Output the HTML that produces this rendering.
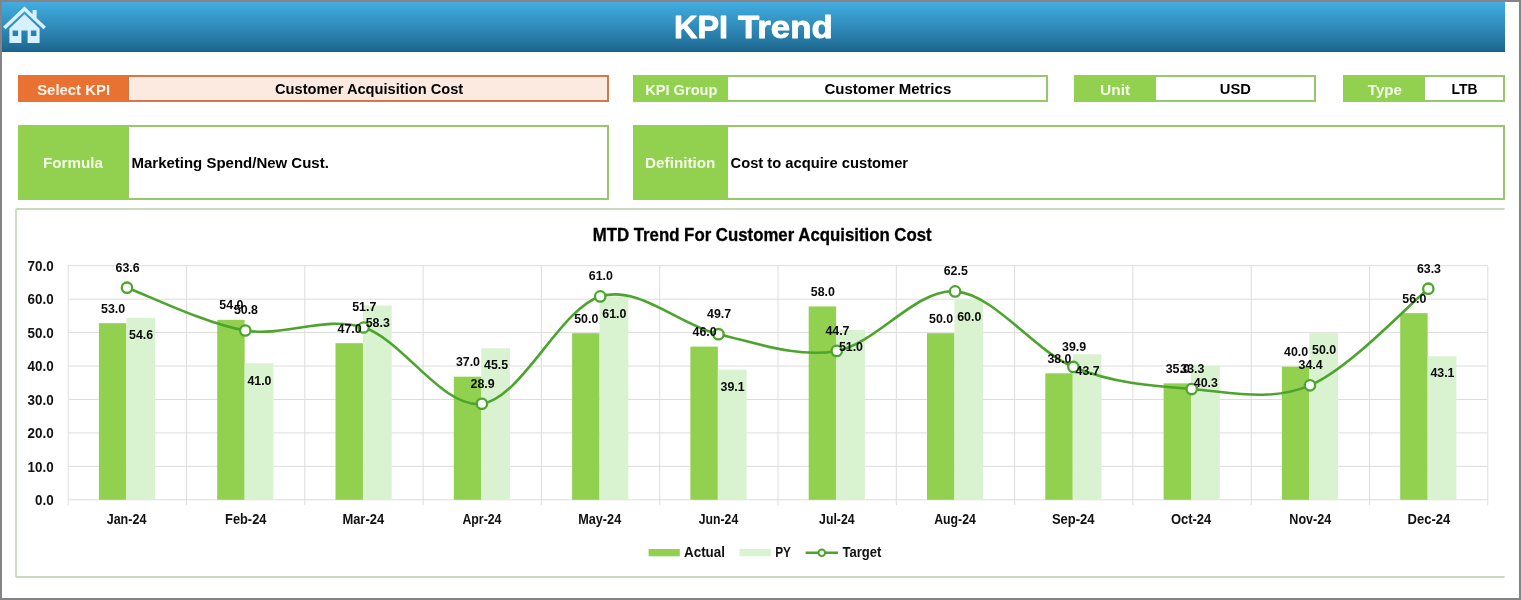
<!DOCTYPE html>
<html lang="en">
<head>
<meta charset="utf-8">
<title>KPI Trend</title>
<style>
*{box-sizing:border-box;margin:0;padding:0}
html,body{width:1521px;height:600px;overflow:hidden;background:#fff}
body{position:relative;font-family:"Liberation Sans",Arial,sans-serif;font-weight:bold;color:#000}
.frame{position:absolute;left:0;top:0;width:1521px;height:600px;border:2px solid #848487;pointer-events:none;z-index:5}
.hdr{position:absolute;left:2px;top:2px;width:1503px;height:50px;background:linear-gradient(to bottom,#46aae1 0%,#3ba3d4 16%,#2f89b8 52%,#24769f 80%,#1b668f 97%,#185e85 100%)}
.hdr h1{position:absolute;left:0;top:0;width:1503px;height:50px;line-height:50px;text-align:center;color:#fff;font-size:32px;font-weight:bold}
.hdr h1 svg{position:absolute;left:0;top:0}
.home{position:absolute;left:-2px;top:-2px}
.box{position:absolute;border:2px solid #97c76b;display:flex}
.box .lab{background:#92d050;color:#f3fbe8;display:flex;align-items:center;justify-content:center;font-size:15.5px;flex:none;margin:-2px 0 -2px -2px;border-right:1px solid #98c766}
.box .val{flex:1;background:#fff;display:flex;align-items:center;justify-content:center;font-size:15.5px;white-space:nowrap}
.box span{display:inline-block;white-space:nowrap}
.box.o{border-color:#d2784b}
.box.o .lab{background:#e97132;color:#fef4ea;border-right-color:#c9754a}
.box.o .val{background:#fce9e0}
.box .val.l{justify-content:flex-start;padding-left:2px}
svg.c{position:absolute;left:0;top:0}
</style>
</head>
<body>
<div class="hdr"><svg class="home" width="50" height="50" viewBox="0 0 50 50">
<g fill="#d6f1ff">
<path d="M24.5 6.6 L32.6 14.2 L32.6 10 L36.6 10 L36.6 18 L46 26.8 L43.5 29.3 L24.5 11.3 L5.5 29.3 L3 26.8 Z"/>
<path fill-rule="evenodd" d="M24.5 14.3 L39.6 28.5 L39.6 43 L27.6 43 L27.6 30.4 L21.4 30.4 L21.4 43 L9.4 43 L9.4 28.5 Z M12.6 30.4 L12.6 36 L18.1 36 L18.1 30.4 Z M30.9 30.4 L30.9 36 L36.4 36 L36.4 30.4 Z"/>
</g></svg><h1><svg width="1503" height="50" viewBox="2 2 1503 50"><text y="37.6" font-family="'Liberation Sans', Arial, sans-serif" font-weight="bold" font-size="30.9" fill="#fff" stroke="#fff" stroke-width="0.8" stroke-linejoin="round" stroke-linecap="round"><tspan x="674.1" textLength="54" lengthAdjust="spacingAndGlyphs">KPI</tspan> <tspan x="737.9" textLength="94.8" lengthAdjust="spacingAndGlyphs">Trend</tspan></text></svg></h1></div>

<div class="box o" style="left:18px;top:75px;width:591px;height:26.8px"><div class="lab" style="width:110.6px"><span style="transform:translate(0.7px,1.5px) scaleX(0.961);transform-origin:center center">Select KPI</span></div><div class="val"><span style="transform:translate(1.5px,0.6px) scaleX(0.9445);transform-origin:center center">Customer Acquisition Cost</span></div></div>
<div class="box" style="left:633.2px;top:75px;width:414.4px;height:26.8px"><div class="lab" style="width:94.6px"><span style="transform:translate(1px,1.5px) scaleX(0.942);transform-origin:center center">KPI Group</span></div><div class="val"><span style="transform:translate(1.4px,0.6px) scaleX(0.9679);transform-origin:center center">Customer Metrics</span></div></div>
<div class="box" style="left:1074.2px;top:75px;width:241.8px;height:26.8px"><div class="lab" style="width:81.5px"><span style="transform:translate(0.7px,1.5px) scaleX(1.0);transform-origin:center center">Unit</span></div><div class="val"><span style="transform:translate(1px,0.6px) scaleX(0.9497);transform-origin:center center">USD</span></div></div>
<div class="box" style="left:1343px;top:75px;width:162px;height:26.8px"><div class="lab" style="width:82px"><span style="transform:translate(1.3px,1.5px) scaleX(0.9714);transform-origin:center center">Type</span></div><div class="val"><span style="transform:translate(0px,0.6px) scaleX(0.8966);transform-origin:center center">LTB</span></div></div>
<div class="box" style="left:18px;top:124.8px;width:591px;height:75px"><div class="lab" style="width:110.6px"><span style="transform:translate(0.4px,0.8px) scaleX(0.9796);transform-origin:center center">Formula</span></div><div class="val l"><span style="transform:translate(0.5px,0.8px) scaleX(0.9668);transform-origin:left center">Marketing Spend/New Cust.</span></div></div>
<div class="box" style="left:633.2px;top:124.8px;width:871.8px;height:75px"><div class="lab" style="width:94.6px"><span style="transform:translate(0.5px,0.8px) scaleX(0.9844);transform-origin:center center">Definition</span></div><div class="val l"><span style="transform:translate(0.5px,0.8px) scaleX(0.9502);transform-origin:left center">Cost to acquire customer</span></div></div>

<svg class="c" width="1521" height="600" viewBox="0 0 1521 600">
<path d="M1504.6,209 H17 Q16,209 16,210 V576 Q16,577 17,577 H1504.6" fill="none" stroke="#cad9bc" stroke-width="1.8"/>
<line x1="68.2" y1="499.8" x2="1487.8" y2="499.8" stroke="#dddddd" stroke-width="1"/>
<line x1="68.2" y1="466.36" x2="1487.8" y2="466.36" stroke="#dddddd" stroke-width="1"/>
<line x1="68.2" y1="432.92" x2="1487.8" y2="432.92" stroke="#dddddd" stroke-width="1"/>
<line x1="68.2" y1="399.48" x2="1487.8" y2="399.48" stroke="#dddddd" stroke-width="1"/>
<line x1="68.2" y1="366.04" x2="1487.8" y2="366.04" stroke="#dddddd" stroke-width="1"/>
<line x1="68.2" y1="332.6" x2="1487.8" y2="332.6" stroke="#dddddd" stroke-width="1"/>
<line x1="68.2" y1="299.16" x2="1487.8" y2="299.16" stroke="#dddddd" stroke-width="1"/>
<line x1="68.2" y1="265.72" x2="1487.8" y2="265.72" stroke="#dddddd" stroke-width="1"/>
<line x1="68.2" y1="265.72" x2="68.2" y2="505.1" stroke="#dddddd" stroke-width="1"/>
<line x1="186.5" y1="265.72" x2="186.5" y2="505.1" stroke="#dddddd" stroke-width="1"/>
<line x1="304.8" y1="265.72" x2="304.8" y2="505.1" stroke="#dddddd" stroke-width="1"/>
<line x1="423.1" y1="265.72" x2="423.1" y2="505.1" stroke="#dddddd" stroke-width="1"/>
<line x1="541.4" y1="265.72" x2="541.4" y2="505.1" stroke="#dddddd" stroke-width="1"/>
<line x1="659.7" y1="265.72" x2="659.7" y2="505.1" stroke="#dddddd" stroke-width="1"/>
<line x1="778" y1="265.72" x2="778" y2="505.1" stroke="#dddddd" stroke-width="1"/>
<line x1="896.3" y1="265.72" x2="896.3" y2="505.1" stroke="#dddddd" stroke-width="1"/>
<line x1="1014.6" y1="265.72" x2="1014.6" y2="505.1" stroke="#dddddd" stroke-width="1"/>
<line x1="1132.9" y1="265.72" x2="1132.9" y2="505.1" stroke="#dddddd" stroke-width="1"/>
<line x1="1251.2" y1="265.72" x2="1251.2" y2="505.1" stroke="#dddddd" stroke-width="1"/>
<line x1="1369.5" y1="265.72" x2="1369.5" y2="505.1" stroke="#dddddd" stroke-width="1"/>
<line x1="1487.8" y1="265.72" x2="1487.8" y2="505.1" stroke="#dddddd" stroke-width="1"/>
<rect x="98.9" y="323.17" width="27.45" height="176.63" fill="#92d050"/>
<rect x="126.35" y="317.82" width="28.75" height="181.98" fill="#d9f2d0"/>
<rect x="217.2" y="319.82" width="27.45" height="179.98" fill="#92d050"/>
<rect x="244.65" y="363.3" width="28.75" height="136.5" fill="#d9f2d0"/>
<rect x="335.5" y="343.23" width="27.45" height="156.57" fill="#92d050"/>
<rect x="362.95" y="305.44" width="28.75" height="194.36" fill="#d9f2d0"/>
<rect x="453.8" y="376.67" width="27.45" height="123.13" fill="#92d050"/>
<rect x="481.25" y="348.25" width="28.75" height="151.55" fill="#d9f2d0"/>
<rect x="572.1" y="333.2" width="27.45" height="166.6" fill="#92d050"/>
<rect x="599.55" y="296.42" width="28.75" height="203.38" fill="#d9f2d0"/>
<rect x="690.4" y="346.58" width="27.45" height="153.22" fill="#92d050"/>
<rect x="717.85" y="369.65" width="28.75" height="130.15" fill="#d9f2d0"/>
<rect x="808.7" y="306.45" width="27.45" height="193.35" fill="#92d050"/>
<rect x="836.15" y="329.86" width="28.75" height="169.94" fill="#d9f2d0"/>
<rect x="927" y="333.2" width="27.45" height="166.6" fill="#92d050"/>
<rect x="954.45" y="299.76" width="28.75" height="200.04" fill="#d9f2d0"/>
<rect x="1045.3" y="373.33" width="27.45" height="126.47" fill="#92d050"/>
<rect x="1072.75" y="354.27" width="28.75" height="145.53" fill="#d9f2d0"/>
<rect x="1163.6" y="383.36" width="27.45" height="116.44" fill="#92d050"/>
<rect x="1191.05" y="365.64" width="28.75" height="134.16" fill="#d9f2d0"/>
<rect x="1281.9" y="366.64" width="27.45" height="133.16" fill="#92d050"/>
<rect x="1309.35" y="333.2" width="28.75" height="166.6" fill="#d9f2d0"/>
<rect x="1400.2" y="313.14" width="27.45" height="186.66" fill="#92d050"/>
<rect x="1427.65" y="356.27" width="28.75" height="143.53" fill="#d9f2d0"/>
<path d="M127,287.72 C146.72,294.86 205.87,323.89 245.3,330.52 C284.73,337.16 324.17,315.31 363.6,327.52 C403.03,339.72 442.47,408.94 481.9,403.76 C521.33,398.58 560.77,308.01 600.2,296.42 C639.63,284.82 679.07,325.12 718.5,334.2 C757.93,343.29 797.37,358.06 836.8,350.92 C876.23,343.79 915.67,288.72 955.1,291.4 C994.53,294.08 1033.97,350.7 1073.4,366.97 C1112.83,383.25 1152.27,385.98 1191.7,389.04 C1231.13,392.11 1270.57,402.09 1310,385.37 C1349.43,368.65 1408.58,304.83 1428.3,288.72" fill="none" stroke="#4ca42d" stroke-width="2.6" stroke-linecap="round" stroke-linejoin="round"/>
<circle cx="127" cy="287.72" r="5.2" fill="#fff" stroke="#4ca42d" stroke-width="2.3"/>
<circle cx="245.3" cy="330.52" r="5.2" fill="#fff" stroke="#4ca42d" stroke-width="2.3"/>
<circle cx="363.6" cy="327.52" r="5.2" fill="#fff" stroke="#4ca42d" stroke-width="2.3"/>
<circle cx="481.9" cy="403.76" r="5.2" fill="#fff" stroke="#4ca42d" stroke-width="2.3"/>
<circle cx="600.2" cy="296.42" r="5.2" fill="#fff" stroke="#4ca42d" stroke-width="2.3"/>
<circle cx="718.5" cy="334.2" r="5.2" fill="#fff" stroke="#4ca42d" stroke-width="2.3"/>
<circle cx="836.8" cy="350.92" r="5.2" fill="#fff" stroke="#4ca42d" stroke-width="2.3"/>
<circle cx="955.1" cy="291.4" r="5.2" fill="#fff" stroke="#4ca42d" stroke-width="2.3"/>
<circle cx="1073.4" cy="366.97" r="5.2" fill="#fff" stroke="#4ca42d" stroke-width="2.3"/>
<circle cx="1191.7" cy="389.04" r="5.2" fill="#fff" stroke="#4ca42d" stroke-width="2.3"/>
<circle cx="1310" cy="385.37" r="5.2" fill="#fff" stroke="#4ca42d" stroke-width="2.3"/>
<circle cx="1428.3" cy="288.72" r="5.2" fill="#fff" stroke="#4ca42d" stroke-width="2.3"/>
<g font-family="'Liberation Sans', Arial, sans-serif" font-weight="bold" font-size="12.4" fill="#0a0a0a" text-anchor="middle">
<text x="113.05" y="312.77">53.0</text>
<text x="141.15" y="339.02">54.6</text>
<text x="127.65" y="271.62">63.6</text>
<text x="231.35" y="309.42">54.0</text>
<text x="259.45" y="384.5">41.0</text>
<text x="245.95" y="314.42">50.8</text>
<text x="349.65" y="332.83">47.0</text>
<text x="377.75" y="326.64">58.3</text>
<text x="364.25" y="311.42">51.7</text>
<text x="467.95" y="366.27">37.0</text>
<text x="496.05" y="369.45">45.5</text>
<text x="482.55" y="387.66">28.9</text>
<text x="586.25" y="322.8">50.0</text>
<text x="614.35" y="317.62">61.0</text>
<text x="600.85" y="280.32">61.0</text>
<text x="704.55" y="336.18">46.0</text>
<text x="732.65" y="390.85">39.1</text>
<text x="719.15" y="318.1">49.7</text>
<text x="822.85" y="296.05">58.0</text>
<text x="850.95" y="351.06">51.0</text>
<text x="837.45" y="334.82">44.7</text>
<text x="941.15" y="322.8">50.0</text>
<text x="969.25" y="320.96">60.0</text>
<text x="955.75" y="275.3">62.5</text>
<text x="1059.45" y="362.93">38.0</text>
<text x="1087.55" y="375.47">43.7</text>
<text x="1074.05" y="350.87">39.9</text>
<text x="1177.75" y="372.96">35.0</text>
<text x="1205.85" y="386.84">40.3</text>
<text x="1192.35" y="372.94">33.3</text>
<text x="1296.05" y="356.24">40.0</text>
<text x="1324.15" y="354.4">50.0</text>
<text x="1310.65" y="369.27">34.4</text>
<text x="1414.35" y="302.74">56.0</text>
<text x="1442.45" y="377.47">43.1</text>
<text x="1428.95" y="272.62">63.3</text>
</g>
<g font-family="'Liberation Sans', Arial, sans-serif" font-weight="bold" font-size="15" fill="#111" text-anchor="end">
<text x="53.7" y="505" textLength="18.6" lengthAdjust="spacingAndGlyphs">0.0</text>
<text x="53.7" y="471.56" textLength="26.1" lengthAdjust="spacingAndGlyphs">10.0</text>
<text x="53.7" y="438.12" textLength="26.1" lengthAdjust="spacingAndGlyphs">20.0</text>
<text x="53.7" y="404.68" textLength="26.1" lengthAdjust="spacingAndGlyphs">30.0</text>
<text x="53.7" y="371.24" textLength="26.1" lengthAdjust="spacingAndGlyphs">40.0</text>
<text x="53.7" y="337.8" textLength="26.1" lengthAdjust="spacingAndGlyphs">50.0</text>
<text x="53.7" y="304.36" textLength="26.1" lengthAdjust="spacingAndGlyphs">60.0</text>
<text x="53.7" y="270.92" textLength="26.1" lengthAdjust="spacingAndGlyphs">70.0</text>
</g>
<g font-family="'Liberation Sans', Arial, sans-serif" font-weight="bold" font-size="14.6" fill="#111" text-anchor="middle">
<text x="126.55" y="524.3" textLength="39.7" lengthAdjust="spacingAndGlyphs">Jan-24</text>
<text x="245.75" y="524.3" textLength="41.3" lengthAdjust="spacingAndGlyphs">Feb-24</text>
<text x="363.25" y="524.3" textLength="41.7" lengthAdjust="spacingAndGlyphs">Mar-24</text>
<text x="481.95" y="524.3" textLength="39.1" lengthAdjust="spacingAndGlyphs">Apr-24</text>
<text x="599.7" y="524.3" textLength="43.0" lengthAdjust="spacingAndGlyphs">May-24</text>
<text x="718.5" y="524.3" textLength="39.4" lengthAdjust="spacingAndGlyphs">Jun-24</text>
<text x="836.85" y="524.3" textLength="35.5" lengthAdjust="spacingAndGlyphs">Jul-24</text>
<text x="955.05" y="524.3" textLength="41.7" lengthAdjust="spacingAndGlyphs">Aug-24</text>
<text x="1073.25" y="524.3" textLength="42.7" lengthAdjust="spacingAndGlyphs">Sep-24</text>
<text x="1191.1" y="524.3" textLength="40.4" lengthAdjust="spacingAndGlyphs">Oct-24</text>
<text x="1310.3" y="524.3" textLength="42.0" lengthAdjust="spacingAndGlyphs">Nov-24</text>
<text x="1428.95" y="524.3" textLength="42.7" lengthAdjust="spacingAndGlyphs">Dec-24</text>
</g>
<text x="762.2" y="240.7" font-family="'Liberation Sans', Arial, sans-serif" font-weight="bold" font-size="17.6" fill="#000" stroke="#000" stroke-width="0.3" text-anchor="middle" textLength="339" lengthAdjust="spacingAndGlyphs">MTD Trend For Customer Acquisition Cost</text>
<rect x="648.6" y="549" width="31.2" height="7.3" fill="#92d050"/>
<rect x="739.6" y="549" width="31.2" height="7.3" fill="#d9f2d0"/>
<line x1="805.6" y1="552.7" x2="838" y2="552.7" stroke="#4ca42d" stroke-width="2.4"/>
<circle cx="821.8" cy="552.7" r="3.3" fill="#fff" stroke="#4ca42d" stroke-width="2"/>
<g font-family="'Liberation Sans', Arial, sans-serif" font-weight="bold" font-size="14.1" fill="#111">
<text x="684" y="556.8" textLength="41" lengthAdjust="spacingAndGlyphs">Actual</text>
<text x="775.2" y="556.8" textLength="15.8" lengthAdjust="spacingAndGlyphs">PY</text>
<text x="842.4" y="556.8" textLength="39" lengthAdjust="spacingAndGlyphs">Target</text>
</g>
</svg>
<div class="frame"></div>
</body>
</html>
